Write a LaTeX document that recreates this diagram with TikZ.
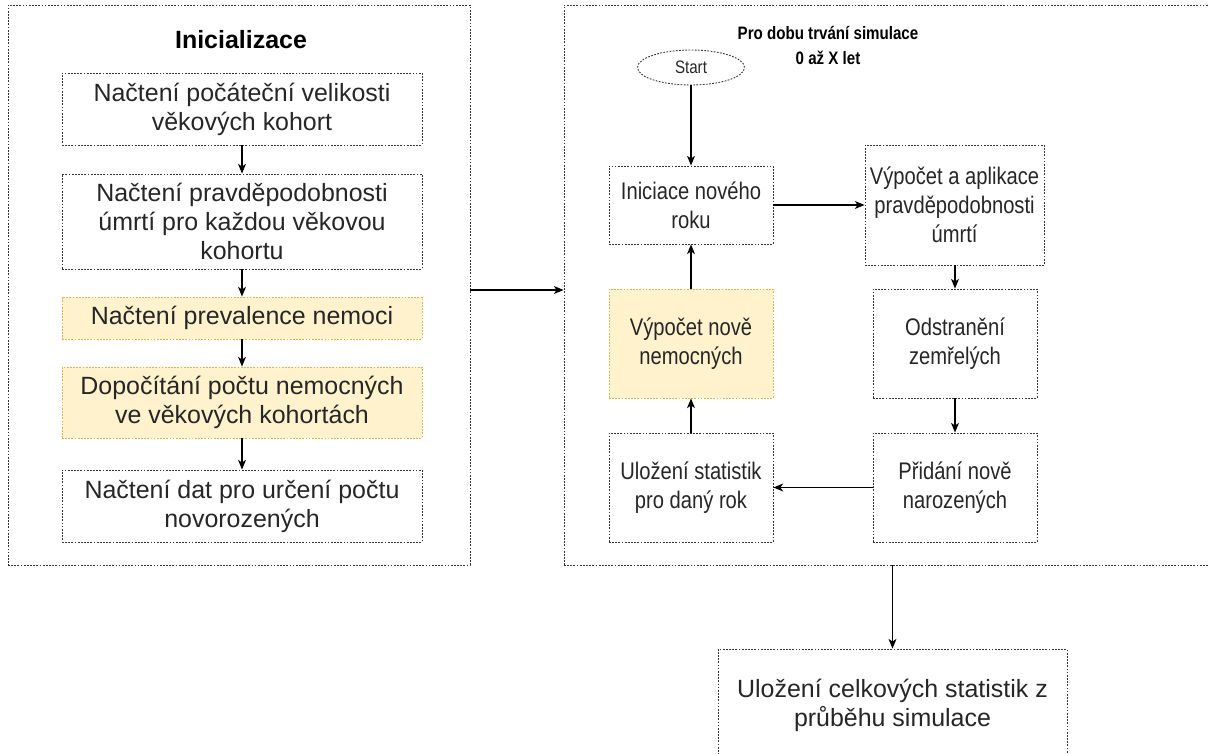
\documentclass[tikz,border=0pt]{standalone}
\usepackage{fontspec}
\setmainfont{Liberation Sans}
\newfontfamily\narrowfont[FakeStretch=0.84]{Liberation Sans}
\usepackage{xcolor}
\usepackage{tikz}
\usetikzlibrary{shapes,arrows,arrows.meta,positioning,fit,calc}
\definecolor{notefill}{HTML}{FFF2CC}
\definecolor{notedraw}{HTML}{D6B656}

\begin{document}
\begin{tikzpicture}[
    frame/.style={rectangle, draw=black!80, line width=0.5pt, dash pattern=on 1pt off 0.8pt},
    stepbox/.style={frame, minimum width=7.2cm, inner sep=1pt, align=center, text=black!85, font=\fontsize{14.2}{16.5}\selectfont},
    loopbox/.style={frame, minimum width=3.28cm, minimum height=2.18cm, inner sep=1pt, align=center, text=black!85, font=\narrowfont\fontsize{13.66}{16.5}\selectfont},
    hot/.style={fill=notefill, draw=notedraw},
    dep/.style={-{Stealth[length=5.5pt, width=4.5pt, inset=1.5pt]}, line width=0.7pt}
]
    \useasboundingbox (0,0) rectangle (24.18,-15.08);

    % Initialisation block
    \node[frame, minimum width=9.24cm, minimum height=11.2cm] (init) at (4.78,-5.70) {};
    \node[font=\bfseries\fontsize{14.2}{16.5}\selectfont] (inittitle) at (4.82,-0.80) {Inicializace};

    \node[stepbox, minimum height=1.44cm] (sizes) at (4.84,-2.18) {Načtení počáteční velikosti\\věkových kohort};
    \node[stepbox, minimum height=1.9cm] (mort) at (4.84,-4.43) {Načtení pravděpodobnosti\\úmrtí pro každou věkovou\\kohortu};
    \node[stepbox, hot, minimum height=0.84cm] (prev) at (4.84,-6.36) {Načtení prevalence nemoci};
    \node[stepbox, hot, minimum height=1.42cm] (sick) at (4.84,-8.05) {Dopočítání počtu nemocných\\ve věkových kohortách};
    \node[stepbox, minimum height=1.44cm] (births) at (4.84,-10.12) {Načtení dat pro určení počtu\\novorozených};

    % Simulation loop
    \node[frame, minimum width=13.52cm, minimum height=11.2cm] (loop) at (18.04,-5.70) {};
    \node[align=center, font=\narrowfont\bfseries\fontsize{10.24}{14.2}\selectfont] (looptitle) at (16.56,-0.91) {Pro dobu trvání simulace\\0 až X let};

    \node[frame, ellipse, minimum width=2.14cm, minimum height=0.7cm, inner sep=0pt, text=black!85, font=\narrowfont\fontsize{10.24}{12}\selectfont] (start) at (13.82,-1.35) {Start};
    \node[loopbox, minimum height=1.56cm] (newyear) at (13.82,-4.10) {Iniciace nového\\roku};
    \node[loopbox, minimum width=3.58cm, minimum height=2.4cm] (death) at (19.09,-4.10) {Výpočet a aplikace\\pravděpodobnosti\\úmrtí};
    \node[loopbox, hot] (newsick) at (13.82,-6.87) {Výpočet nově\\nemocných};
    \node[loopbox] (remove) at (19.10,-6.87) {Odstranění\\zemřelých};
    \node[loopbox] (stats) at (13.82,-9.75) {Uložení statistik\\pro daný rok};
    \node[loopbox] (born) at (19.10,-9.75) {Přidání nově\\narozených};

    % Final output
    \node[stepbox, minimum width=6.98cm, minimum height=2.24cm] (total) at (17.85,-14.10) {Uložení celkových statistik z\\průběhu simulace};

    % Flow
    \draw[dep] (sizes) -- (mort);
    \draw[dep] (mort) -- (prev);
    \draw[dep] (prev) -- (sick);
    \draw[dep] (sick) -- (births);
    \draw[dep] ([yshift=-0.1cm]init.east) -- ([yshift=-0.1cm]loop.west);
    \draw[dep] (start) -- (newyear);
    \draw[dep] (newyear) -- (death);
    \draw[dep] (death.south -| remove) -- (remove);
    \draw[dep] (remove) -- (born);
    \draw[dep] (born) -- (stats);
    \draw[dep] (stats) -- (newsick);
    \draw[dep] (newsick) -- (newyear);
    \draw[dep] (loop.south -| total) -- (total);
\end{tikzpicture}
\end{document}
